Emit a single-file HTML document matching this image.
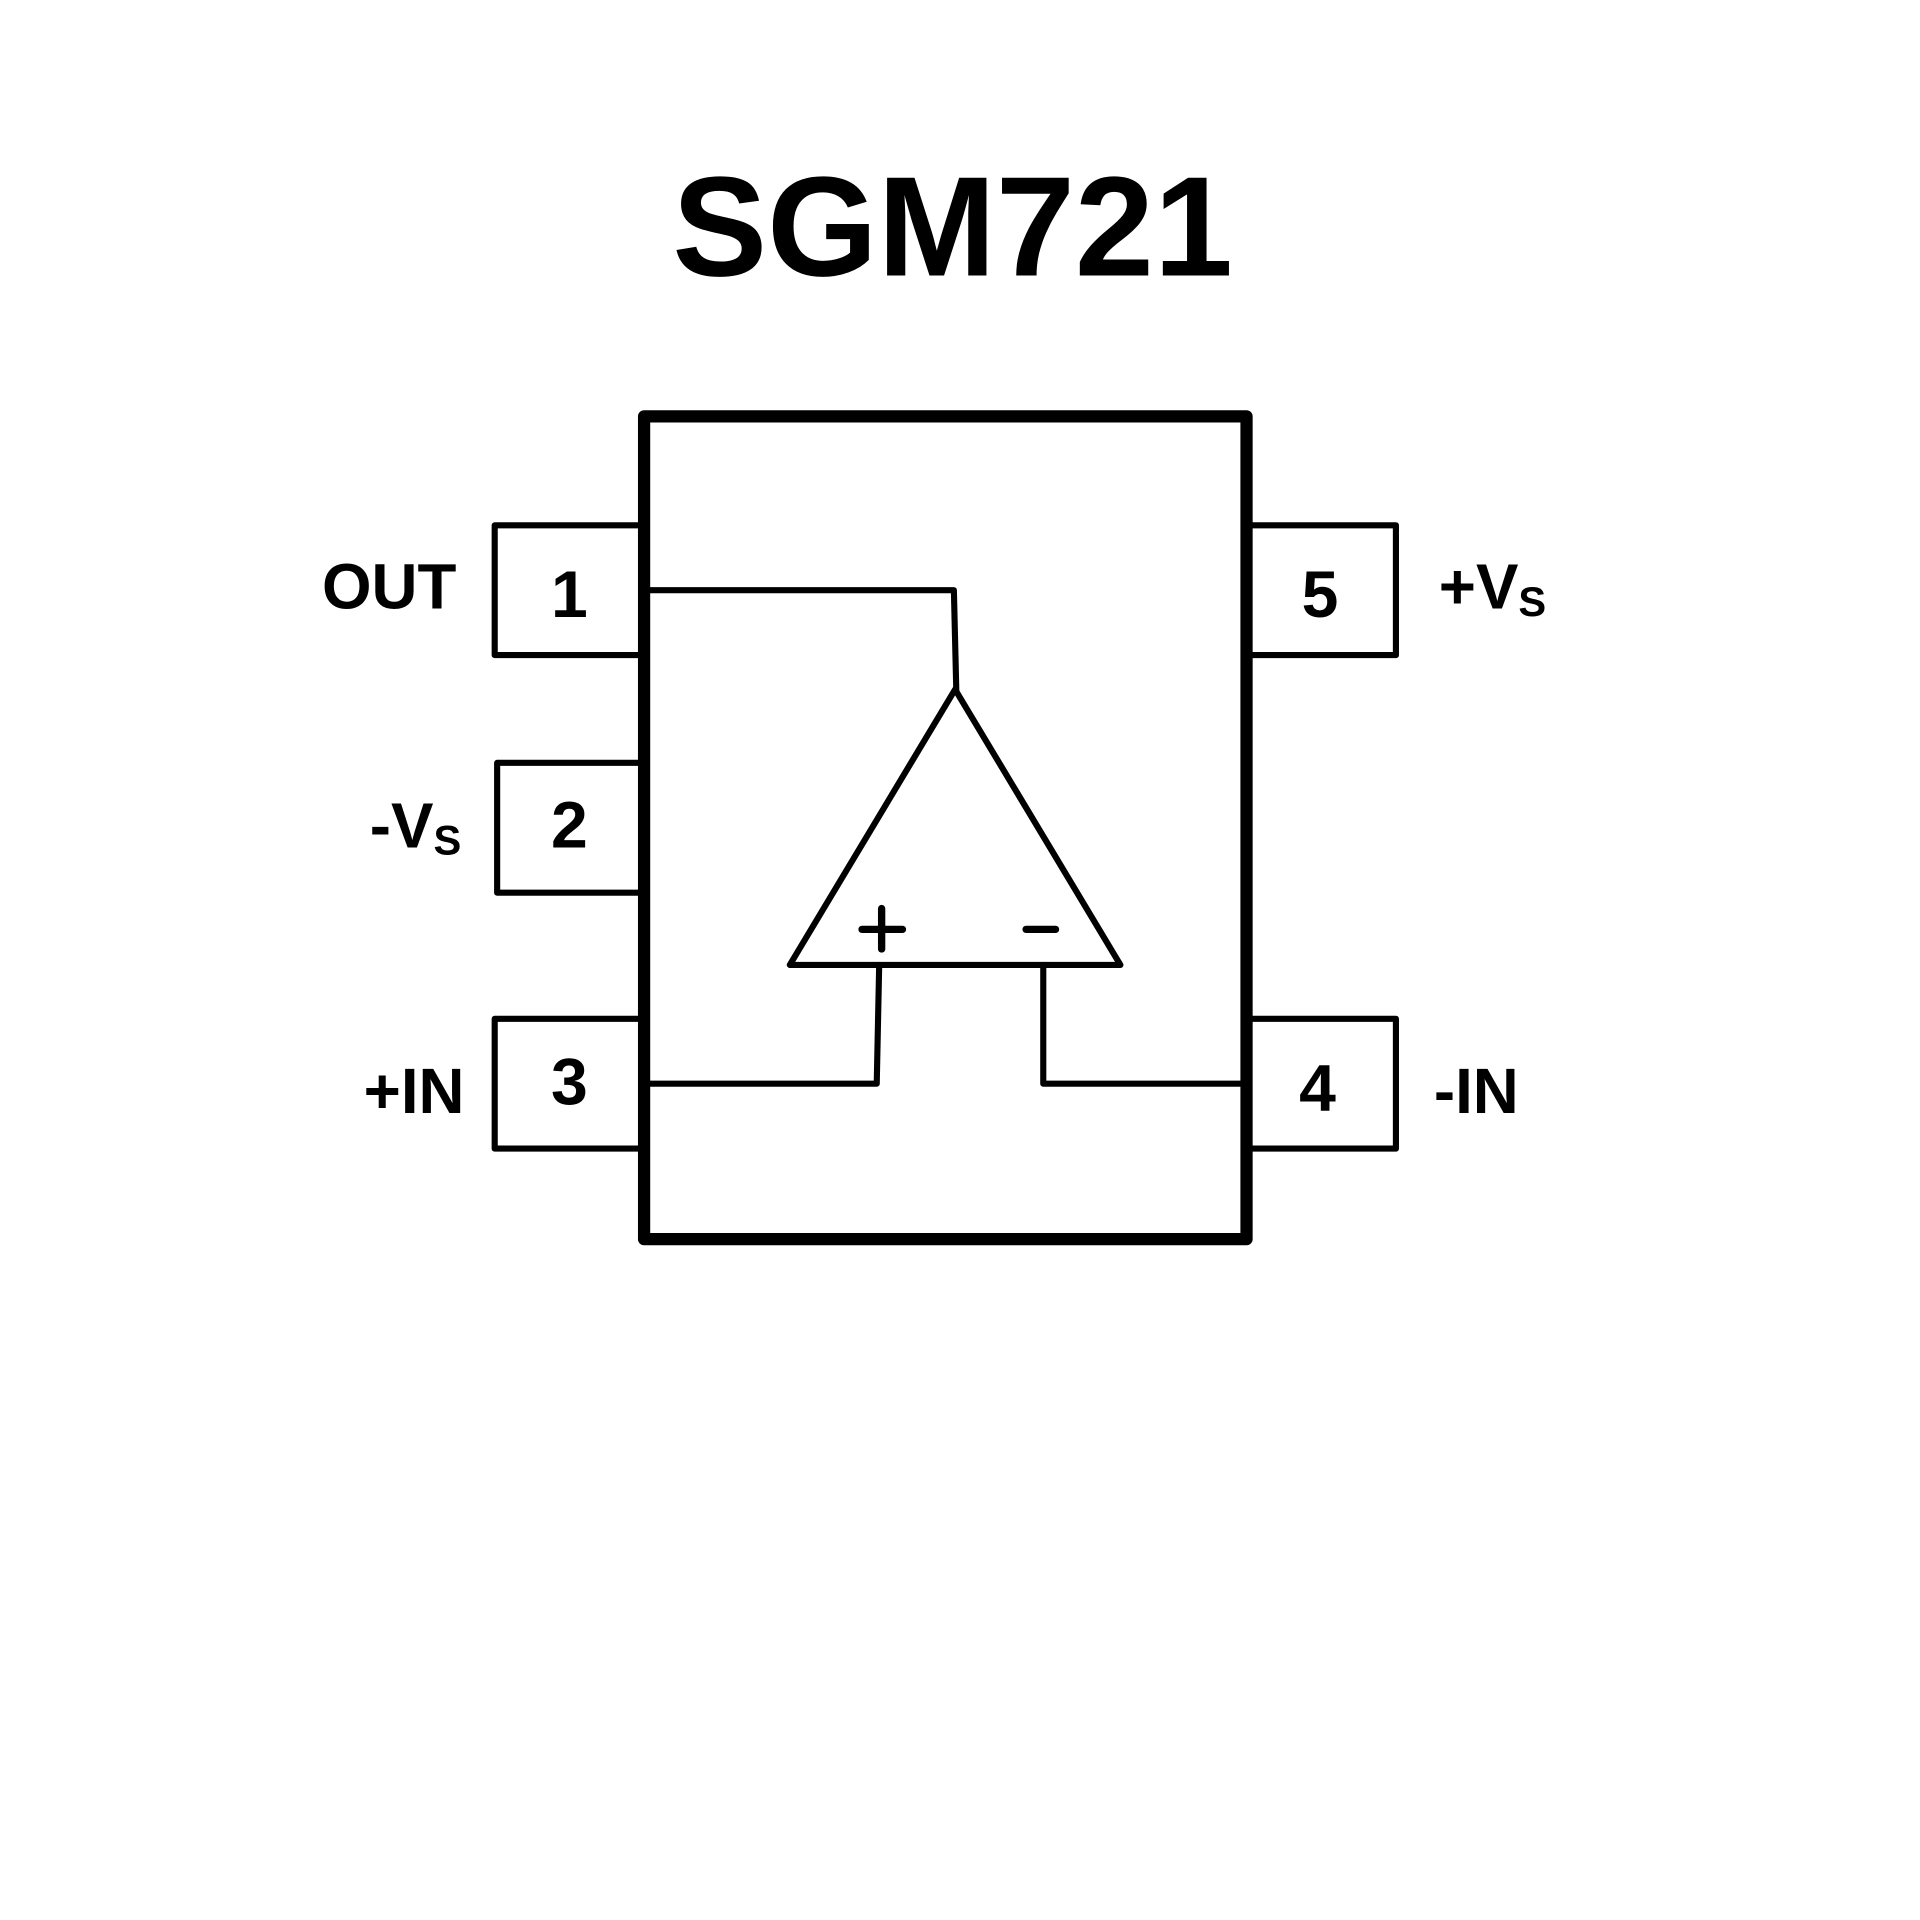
<!DOCTYPE html>
<html><head><meta charset="utf-8"><style>html,body{margin:0;padding:0;background:#fff}svg{display:block}</style></head>
<body>
<svg width="1920" height="1920" viewBox="0 0 1568 1568" xmlns="http://www.w3.org/2000/svg">
<rect width="1568" height="1568" fill="#fff"/>
<text x="778" y="225" text-anchor="middle" font-family="Liberation Sans, sans-serif" font-weight="bold" font-size="116" fill="#000">SGM721</text>
<rect x="526" y="340" width="492" height="672" fill="none" stroke="#000" stroke-width="10" stroke-linejoin="round"/>
<g fill="none" stroke="#000" stroke-width="5" stroke-linejoin="round" stroke-linecap="round">
<polyline points="522,429 404,429 404,535 522,535"/>
<polyline points="522,623 406,623 406,729 522,729"/>
<polyline points="522,832 404,832 404,938 522,938"/>
<polyline points="1022,429 1140,429 1140,535 1022,535"/>
<polyline points="1022,832 1140,832 1140,938 1022,938"/>
<polyline points="530,482 779,482 781,565"/>
<polygon points="780,563 645,788 915,788"/>
<polyline points="718,788 716,885 530,885"/>
<polyline points="852,788 852,885 1014,885"/>
</g>
<g fill="none" stroke="#000" stroke-width="6" stroke-linecap="round">
<line x1="704" y1="759" x2="737" y2="759"/>
<line x1="720" y1="742" x2="720" y2="775"/>
<line x1="838" y1="759" x2="862" y2="759"/>
</g>
<g font-family="Liberation Sans, sans-serif" font-weight="bold" font-size="54" fill="#000" text-anchor="middle">
<text x="465" y="504">1</text>
<text x="465" y="692">2</text>
<text x="465" y="902">3</text>
<text x="1078" y="504">5</text>
<text x="1076" y="907">4</text>
</g>
<g font-family="Liberation Sans, sans-serif" font-weight="bold" font-size="52" fill="#000">
<text x="263" y="497">OUT</text>
<text x="302" y="692">-V<tspan font-size="34" dy="6">S</tspan></text>
<text x="297" y="909">+IN</text>
<text x="1175" y="497">+V<tspan font-size="34" dy="6">S</tspan></text>
<text x="1171" y="909">-IN</text>
</g>
</svg>
</body></html>
